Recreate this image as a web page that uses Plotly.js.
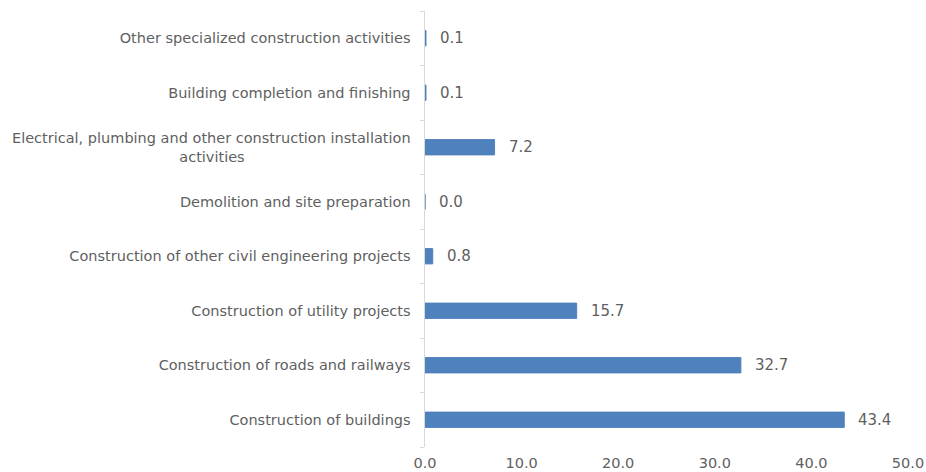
<!DOCTYPE html>
<html>
<head>
<meta charset="utf-8">
<script src="https://cdn.plot.ly/plotly-3.0.1.min.js"></script>
<style>html,body{margin:0;padding:0;background:#fff;}#chart{width:926px;height:472px;}</style>
</head>
<body>
<div id="chart"></div>
<script>
var categories = [
  "Construction of buildings",
  "Construction of roads and railways",
  "Construction of utility projects",
  "Construction of other civil engineering projects",
  "Demolition and site preparation",
  "Electrical, plumbing and other construction installation<br>activities" + "\u00a0".repeat(36),
  "Building completion and finishing",
  "Other specialized construction activities"
];
var values = [43.4, 32.7, 15.7, 0.8, 0.0, 7.2, 0.1, 0.1];
var xTickVals = [0, 10, 20, 30, 40, 50];

var font = "'DejaVu Sans', sans-serif";
var gray = "#5f5f5f";

var trace = {
  type: "bar",
  orientation: "h",
  y: categories,
  x: values,
  width: 0.28,
  marker: {color: "#4f81bd", line: {color: "#4f81bd", width: 1}},
  hoverinfo: "none"
};

var annotations = values.map(function(v, i) {
  return {
    x: v, y: categories[i], xref: "x", yref: "y",
    text: v.toFixed(1), showarrow: false,
    xanchor: "left", xshift: 12,
    font: {family: font, size: 15, color: gray}
  };
});

var layout = {
  width: 926, height: 472,
  margin: {l: 425, r: 18, t: 11, b: 25},
  paper_bgcolor: "#fff", plot_bgcolor: "#fff",
  showlegend: false,
  font: {family: font, size: 14, color: gray},
  xaxis: {
    range: [0, 50], tickvals: xTickVals, tickformat: ".1f",
    showgrid: false, zeroline: false, showline: false,
    ticks: "", ticklabelstandoff: 5,
    tickfont: {family: font, size: 14.5, color: gray}
  },
  yaxis: {
    type: "category", categoryorder: "array", categoryarray: categories,
    range: [-0.5, 7.5],
    showgrid: false, zeroline: false,
    showline: true, linecolor: "#d9d9d9", linewidth: 1.5,
    ticks: "outside", tickson: "boundaries", ticklen: 4, tickcolor: "#d9d9d9", tickwidth: 1,
    ticklabelstandoff: 10,
    tickfont: {family: font, size: 14.5, color: gray},
    automargin: false
  },
  annotations: annotations
};

Plotly.newPlot("chart", [trace], layout, {displayModeBar: false, staticPlot: true});
</script>
</body>
</html>
